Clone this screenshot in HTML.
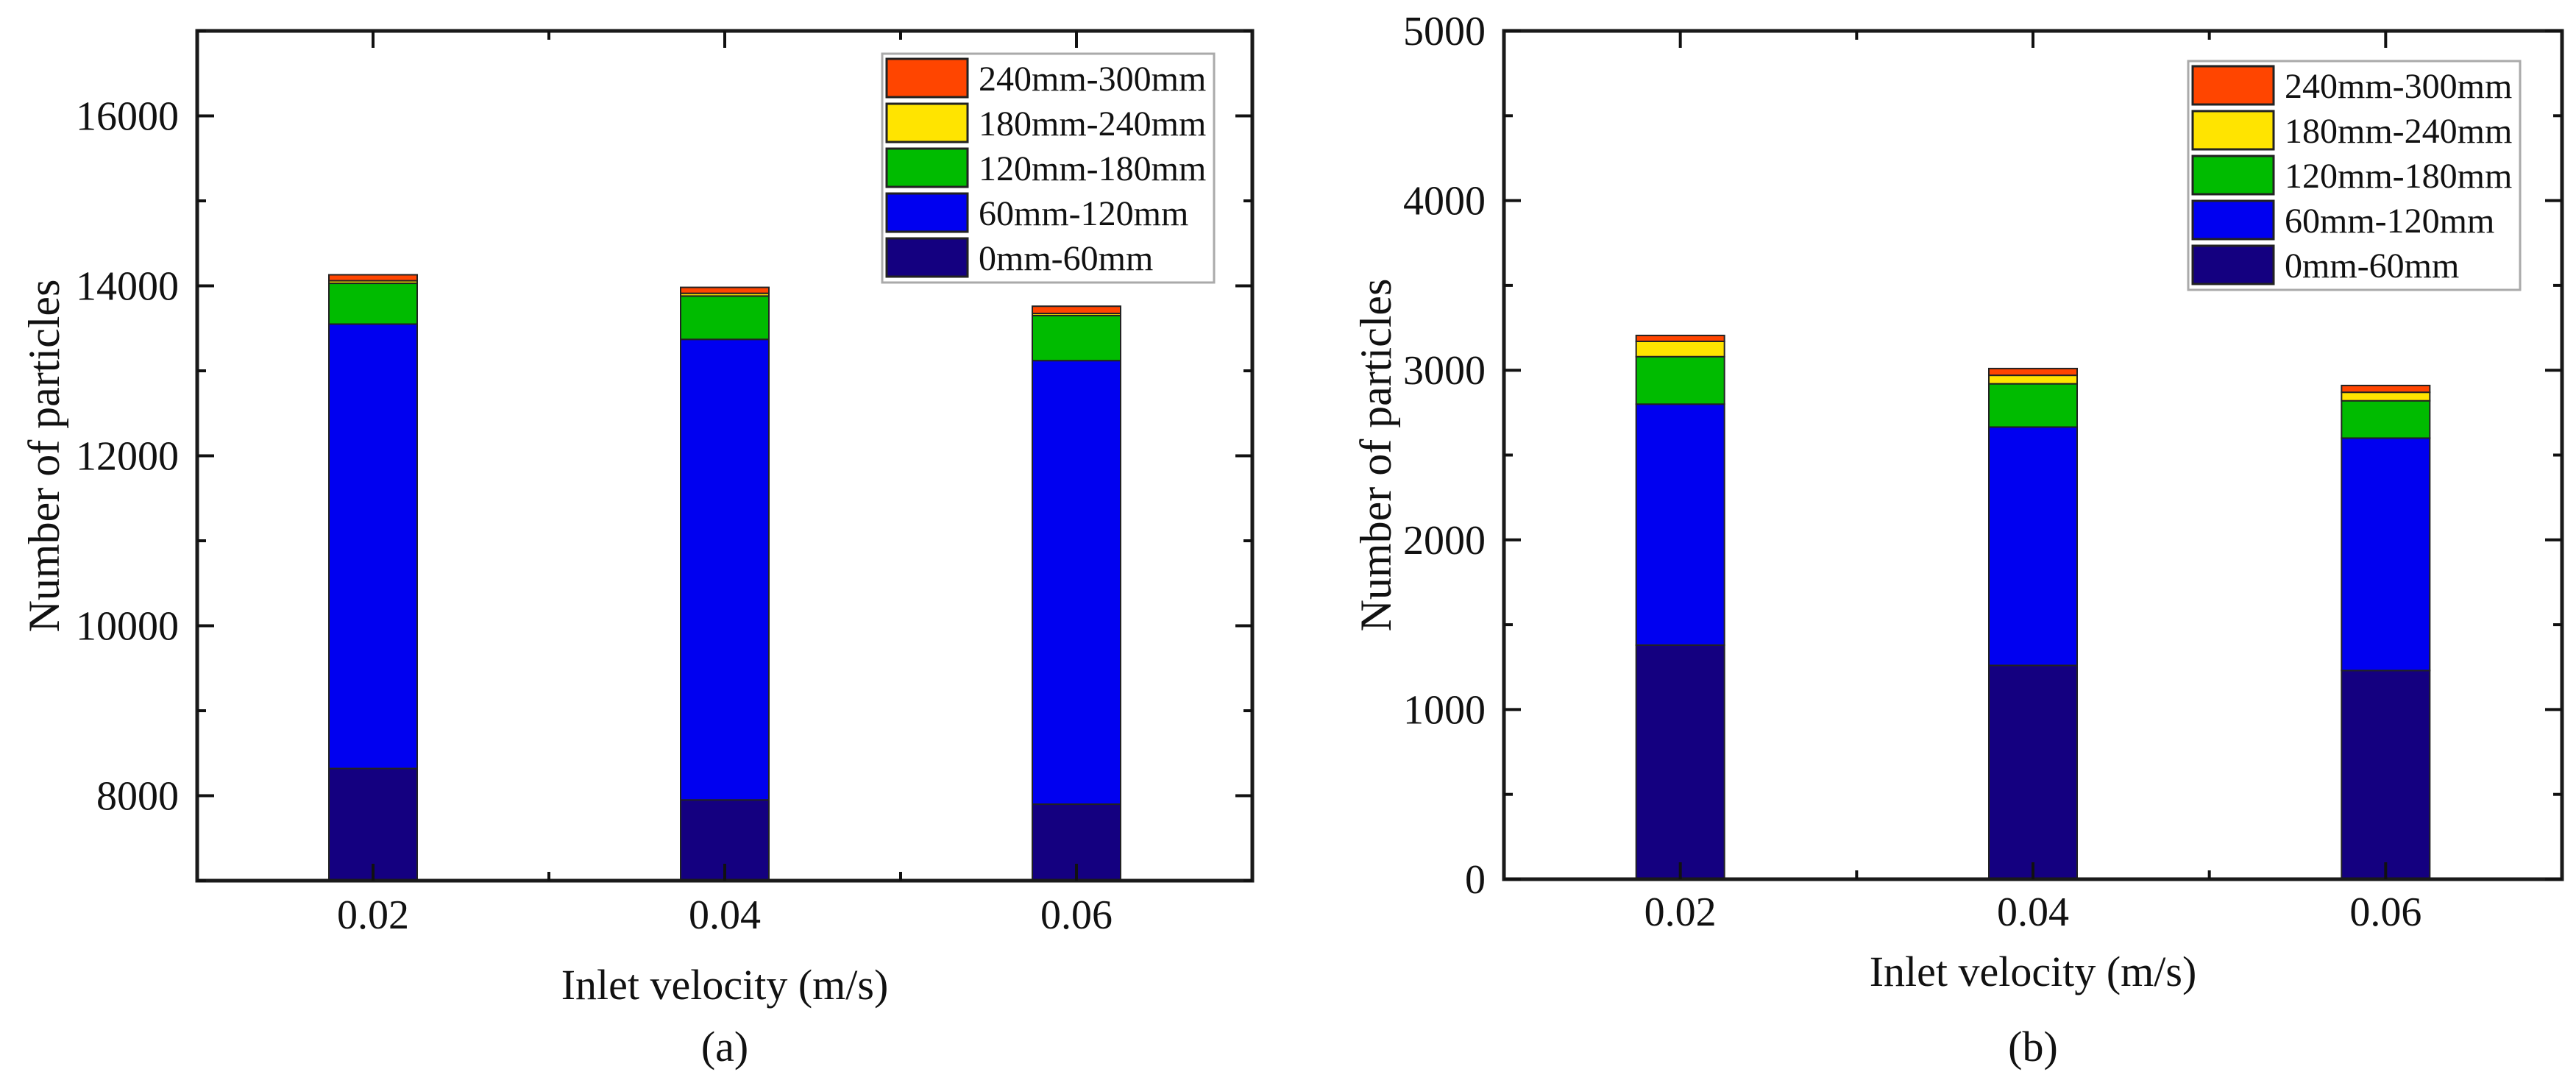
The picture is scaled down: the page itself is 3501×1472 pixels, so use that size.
<!DOCTYPE html>
<html><head><meta charset="utf-8">
<style>
html,body{margin:0;padding:0;background:#fff;}
svg{display:block;font-family:"Liberation Serif",serif;}
</style></head>
<body>
<svg id="chart" width="3501" height="1472" viewBox="0 0 3501 1472" xmlns="http://www.w3.org/2000/svg">
<rect x="0" y="0" width="3501" height="1472" fill="#fff"/>
</svg>
<script>
const categories = ["0.02", "0.04", "0.06"];
const seriesNames = ["0mm-60mm", "60mm-120mm", "120mm-180mm", "180mm-240mm", "240mm-300mm"];
const seriesColors = ["#140080", "#0000F0", "#00BB00", "#FFE400", "#FF4500"];
// panel (a)
const aDark = [8320, 7950, 7900];
const aBlue = [5230, 5420, 5220];
const aGreen = [480, 510, 530];
const aYellow = [30, 32, 25];
const aOrange = [70, 70, 85];
const aTicks = [8000, 10000, 12000, 14000, 16000];
const aMinor = [7000, 9000, 11000, 13000, 15000, 17000];
// panel (b)
const bDark = [1380, 1260, 1230];
const bBlue = [1420, 1405, 1370];
const bGreen = [280, 255, 220];
const bYellow = [90, 50, 50];
const bOrange = [35, 40, 40];
const bTicks = [0, 1000, 2000, 3000, 4000, 5000];
const bMinor = [500, 1500, 2500, 3500, 4500];

const NS = "http://www.w3.org/2000/svg";
const svg = document.getElementById("chart");
function mk(tag, attrs, parent) {
  const e = document.createElementNS(NS, tag);
  for (const k in attrs) e.setAttribute(k, attrs[k]);
  (parent || svg).appendChild(e);
  return e;
}

function panel(cfg) {
  const g = mk("g", {});
  
  
  const L = cfg.left, R = cfg.right, T = cfg.top, B = cfg.bottom;
  const y = v => B - (v - cfg.ymin) / (cfg.ymax - cfg.ymin) * (B - T);
  const step = (R - L) / categories.length;
  const x = i => L + step * (i + 0.5);
  const bw = 120;
  const series = cfg.series;
  categories.forEach((c, i) => {
    let base = 0;
    series.forEach((arr, s) => {
      const lo = base, hi = base + arr[i];
      base = hi;
      const y0 = y(Math.max(lo, cfg.ymin)), y1 = y(hi);
      const r = mk("rect", {x: x(i) - bw / 2, y: y1, width: bw, height: Math.max(0, y0 - y1),
        fill: seriesColors[s], stroke: "#222", "stroke-width": 2}, g);
      
      
    });
  });
  const fr = mk("rect", {x: L, y: T, width: R - L, height: B - T, fill: "none", stroke: "#1a1a1a", "stroke-width": 5}, g);
  
  
  cfg.ticks.forEach(v => {
    const yy = y(v);
    mk("line", {x1: L, x2: L + 23, y1: yy, y2: yy, stroke: "#111", "stroke-width": 4}, g);
    mk("line", {x1: R, x2: R - 23, y1: yy, y2: yy, stroke: "#111", "stroke-width": 4}, g);
    const t = mk("text", {x: cfg.labelRight, y: yy + 19, "text-anchor": "end", "font-size": 56, fill: "#111"}, g);
    t.textContent = v;
    
    
  });
  cfg.minor.forEach(v => {
    const yy = y(v);
    mk("line", {x1: L, x2: L + 12, y1: yy, y2: yy, stroke: "#111", "stroke-width": 4}, g);
    mk("line", {x1: R, x2: R - 12, y1: yy, y2: yy, stroke: "#111", "stroke-width": 4}, g);
  });
  categories.forEach((c, i) => {
    const xx = x(i);
    mk("line", {x1: xx, x2: xx, y1: B, y2: B - 23, stroke: "#111", "stroke-width": 4}, g);
    mk("line", {x1: xx, x2: xx, y1: T, y2: T + 23, stroke: "#111", "stroke-width": 4}, g);
    const t = mk("text", {x: xx, y: cfg.xLabelY, "text-anchor": "middle", "font-size": 56, fill: "#111"}, g);
    t.textContent = c;
    
    
  });
  for (let i = 1; i < categories.length; i++) {
    const xx = L + step * i;
    mk("line", {x1: xx, x2: xx, y1: B, y2: B - 12, stroke: "#111", "stroke-width": 4}, g);
    mk("line", {x1: xx, x2: xx, y1: T, y2: T + 12, stroke: "#111", "stroke-width": 4}, g);
  }
  const yt = mk("text", {x: 0, y: 0, transform: "translate(" + cfg.yTitleX + "," + ((T + B) / 2) + ") rotate(-90)",
    "text-anchor": "middle", "font-size": 60, fill: "#111"}, g);
  yt.textContent = "Number of particles";
  
  
  const xt = mk("text", {x: cfg.xTitleX, y: cfg.xTitleY, "text-anchor": "middle", "font-size": 58, fill: "#111"}, g);
  xt.textContent = "Inlet velocity (m/s)";
  
  
  const cap = mk("text", {x: cfg.xTitleX, y: 1442, "text-anchor": "middle", "font-size": 58, fill: "#111"}, g);
  cap.textContent = cfg.caption;
  
  
  const lg = mk("g", {}, g);
  
  
  mk("rect", {x: cfg.legX, y: cfg.legY, width: 451, height: 311, fill: "#fff", stroke: "#aaa", "stroke-width": 3}, lg);
  for (let k = 0; k < 5; k++) {
    const s = 4 - k;
    const ry = cfg.legY + 7 + k * 61;
    const e = mk("g", {}, lg);
    
    
    mk("rect", {x: cfg.legX + 6, y: ry, width: 110, height: 52, fill: seriesColors[s], stroke: "#222", "stroke-width": 3}, e);
    const t = mk("text", {x: cfg.legX + 131, y: ry + 43, "font-size": 48, fill: "#111"}, e);
    t.textContent = seriesNames[s];
  }
}

panel({name: "panel-a", left: 268, right: 1702, top: 42, bottom: 1197, ymin: 7000, ymax: 17000,
  series: [aDark, aBlue, aGreen, aYellow, aOrange], ticks: aTicks, minor: aMinor,
  labelRight: 243, xLabelY: 1262, yTitleX: 80, xTitleX: 985, xTitleY: 1358, caption: "(a)",
  legX: 1199, legY: 73});
panel({name: "panel-b", left: 2044, right: 3482, top: 42, bottom: 1195, ymin: 0, ymax: 5000,
  series: [bDark, bBlue, bGreen, bYellow, bOrange], ticks: bTicks, minor: bMinor,
  labelRight: 2019, xLabelY: 1258, yTitleX: 1890, xTitleX: 2763, xTitleY: 1340, caption: "(b)",
  legX: 2974, legY: 83});
</script>
</body></html>
